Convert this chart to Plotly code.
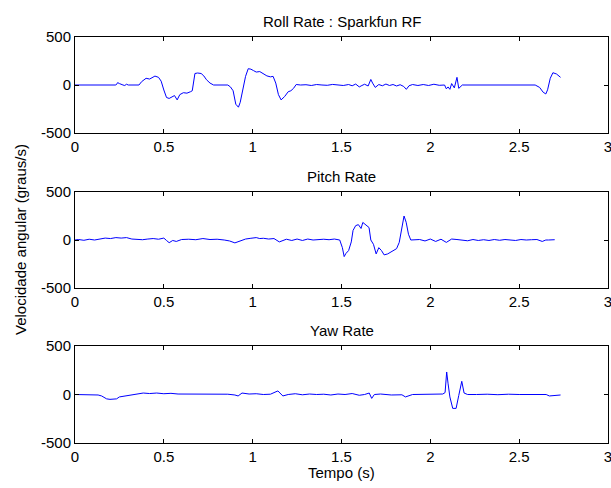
import plotly.graph_objects as go

# ---- data ----
roll_t = [0, 0.23, 0.235, 0.24, 0.25, 0.26, 0.27, 0.28, 0.29, 0.30, 0.32, 0.34, 0.36, 0.375, 0.39, 0.40,
          0.42, 0.44, 0.45, 0.47, 0.485, 0.50, 0.515, 0.53, 0.545, 0.56, 0.575, 0.59, 0.61, 0.63, 0.65,
          0.66, 0.675, 0.69, 0.71, 0.725, 0.74, 0.76, 0.78, 0.82, 0.86, 0.875, 0.89, 0.905, 0.92, 0.93,
          0.945, 0.96, 0.975, 0.99, 1.005, 1.02, 1.04, 1.06, 1.08, 1.10, 1.115, 1.13, 1.145, 1.16, 1.18,
          1.20, 1.215, 1.23, 1.245, 1.27, 1.30, 1.33, 1.36, 1.39, 1.42, 1.45, 1.48, 1.51, 1.54, 1.56,
          1.58, 1.60, 1.615, 1.63, 1.65, 1.665, 1.675, 1.69, 1.71, 1.73, 1.75, 1.77, 1.79, 1.81, 1.83,
          1.85, 1.865, 1.88, 1.90, 1.93, 1.96, 1.99, 2.02, 2.05, 2.08, 2.09, 2.10, 2.11, 2.12, 2.135,
          2.15, 2.16, 2.18, 2.22, 2.28, 2.34, 2.40, 2.46, 2.52, 2.57, 2.59, 2.615, 2.635, 2.65, 2.66,
          2.675, 2.69, 2.71, 2.733]
roll_v = [0, 0, 10, 25, 15, 5, 0, -5, 8, 0, 0, 0, 0, 35, 60, 70, 62, 85, 93, 80, 40, -52, -130, -140,
          -125, -110, -155, -100, -80, -85, -70, -60, 120, 125, 120, 95, 55, 20, 0, 0, 0, -20, -60,
          -200, -231, -180, -40, 90, 170, 165, 150, 135, 140, 120, 95, 85, 90, 20, -100, -155, -120,
          -70, -60, -35, 5, 0, 3, -5, 5, 0, -3, 6, 0, -5, 5, -8, 10, -20, -5, 8, -10, 58, 20, -25, 5,
          -8, 10, -5, 5, -10, 3, -15, -45, -8, 5, -5, 5, -5, 8, -3, 0, -40, -20, -45, 15, -30, 80, -35,
          0, 0, 3, -2, 3, 0, 2, 0, 0, -25, -75, -93, -50, 70, 128, 115, 80]

pitch_t = [0, 0.02, 0.05, 0.08, 0.11, 0.14, 0.17, 0.20, 0.23, 0.26, 0.29, 0.32, 0.35, 0.38, 0.41, 0.44,
           0.47, 0.50, 0.515, 0.53, 0.55, 0.57, 0.60, 0.64, 0.68, 0.72, 0.76, 0.80, 0.84, 0.87, 0.90,
           0.93, 0.96, 0.99, 1.02, 1.04, 1.06, 1.09, 1.12, 1.15, 1.17, 1.19, 1.22, 1.25, 1.28, 1.31,
           1.34, 1.37, 1.40, 1.43, 1.46, 1.49, 1.505, 1.515, 1.525, 1.54, 1.555, 1.565, 1.58, 1.595,
           1.61, 1.62, 1.637, 1.655, 1.665, 1.68, 1.695, 1.71, 1.725, 1.74, 1.76, 1.79, 1.81, 1.825,
           1.84, 1.852, 1.864, 1.877, 1.89, 1.91, 1.94, 1.97, 2.00, 2.03, 2.06, 2.09, 2.12, 2.15, 2.18,
           2.21, 2.24, 2.27, 2.30, 2.33, 2.36, 2.39, 2.42, 2.45, 2.48, 2.51, 2.54, 2.57, 2.60, 2.63,
           2.65, 2.665, 2.70, 2.733]
pitch_v = [0, 5, -3, 8, 0, 10, 20, 15, 25, 20, 25, 10, 5, 3, 10, 15, 8, 20, -5, -28, -5, -15, 5, 8, 3,
           15, 5, 8, 0, -10, -30, -10, 10, 18, 25, 15, 18, 10, 15, -20, -10, 8, -5, 10, -5, 10, 0, 5, 8,
           3, 10, 0, -80, -173, -140, -110, -20, 100, 150, 160, 120, 183, 160, 130, 0, -45, -145, -80,
           -110, -155, -145, -110, -90, -25, 130, 250, 185, 60, 0, 0, 5, -10, 10, -15, 8, -25, 10, 5, 0,
           -8, 5, -5, 3, -5, 5, -3, 5, 0, -5, 5, 0, 3, 5, -15, 0, 0, 3]

yaw_t = [0, 0.10, 0.13, 0.15, 0.178, 0.197, 0.234, 0.25, 0.30, 0.34, 0.384, 0.42, 0.46, 0.50, 0.54,
         0.58, 0.62, 0.66, 0.72, 0.78, 0.82, 0.86, 0.90, 0.918, 0.94, 0.98, 1.02, 1.06, 1.10, 1.142,
         1.17, 1.20, 1.24, 1.28, 1.32, 1.36, 1.40, 1.44, 1.48, 1.52, 1.56, 1.60, 1.63, 1.656, 1.67,
         1.685, 1.72, 1.78, 1.84, 1.86, 1.90, 1.96, 2.02, 2.07, 2.083, 2.092, 2.10, 2.11, 2.126,
         2.145, 2.16, 2.177, 2.19, 2.21, 2.26, 2.32, 2.38, 2.44, 2.50, 2.56, 2.62, 2.652, 2.67, 2.70,
         2.733]
yaw_v = [0, 0, -5, -15, -45, -50, -45, -25, -10, 0, 15, 10, 15, 8, 12, 5, 5, 0, 0, 0, -2, 3, -5, -15, 15,
         5, 8, 0, 3, 37, -15, 0, 8, -3, 5, 0, 3, -5, 5, 0, 10, -8, 0, 15, -40, 0, 5, -5, -3, -25, 0, 3,
         0, 5, 20, 232, 110, -25, -143, -143, -10, 136, 15, 0, 0, 3, -2, 3, 0, 2, 0, 0, -15, -10, -5]

titles = ["Roll Rate : Sparkfun RF", "Pitch Rate", "Yaw Rate"]
x_ticks = [0, 0.5, 1, 1.5, 2, 2.5, 3]
x_tick_labels = ["0", "0.5", "1", "1.5", "2", "2.5", "3"]
y_ticks = [-500, 0, 500]
y_tick_labels = ["-500", "0", "500"]
y_label = "Velocidade angular (graus/s)"
x_label = "Tempo (s)"

series = [(roll_t, roll_v), (pitch_t, pitch_v), (yaw_t, yaw_v)]

# ---- figure ----
font = dict(family="Liberation Sans, Arial, sans-serif", size=15, color="black")
domains = [[0.7635, 1.0], [0.3818, 0.6182], [0.0, 0.2389]]

fig = go.Figure()
annotations = []
for i, (t, v) in enumerate(series):
    n = "" if i == 0 else str(i + 1)
    fig.add_trace(go.Scatter(x=t, y=v, mode="lines", line=dict(color="#0000ff", width=1),
                             xaxis="x" + n, yaxis="y" + n, showlegend=False, hoverinfo="skip"))
    axcommon = dict(showline=True, linecolor="black", linewidth=1, mirror="ticks", ticks="inside",
                    ticklen=4, tickcolor="black", showgrid=False, zeroline=False,
                    tickfont=font, automargin=False, ticklabeloverflow="allow")
    fig.layout["xaxis" + n] = dict(axcommon, range=[0, 3], tickvals=x_ticks, ticktext=x_tick_labels,
                                   anchor="y" + n, domain=[0, 1])
    fig.layout["yaxis" + n] = dict(axcommon, range=[-500, 500], tickvals=y_ticks,
                                   ticktext=y_tick_labels, anchor="x" + n, domain=domains[i])
    annotations.append(dict(text=titles[i], x=0.5, y=domains[i][1], xref="paper", yref="paper",
                            xanchor="center", yanchor="bottom", yshift=5, showarrow=False, font=font))

annotations.append(dict(text=y_label, x=0, y=0.5, xref="paper", yref="paper", xanchor="center",
                        yanchor="middle", xshift=-55, textangle=-90, showarrow=False, font=font))
annotations.append(dict(text=x_label, x=0.5, y=0, xref="paper", yref="paper", xanchor="center",
                        yanchor="top", yshift=-19, showarrow=False, font=font))

fig.update_layout(width=611, height=488, margin=dict(l=75, r=3, t=37, b=45),
                  paper_bgcolor="white", plot_bgcolor="white", annotations=annotations)

fig.write_html("out.html", config={"displayModeBar": False},
               post_script="document.body.style.margin='0';document.body.style.overflow='hidden';")
